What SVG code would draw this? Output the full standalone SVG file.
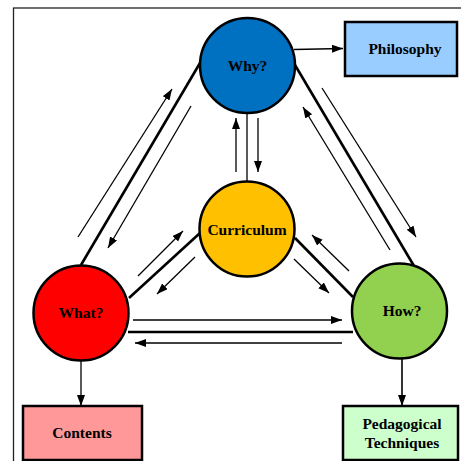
<svg xmlns="http://www.w3.org/2000/svg" width="461" height="461" viewBox="0 0 461 461">
<style>
.c{stroke:#000;stroke-width:2.5}
.b{stroke:#000;stroke-width:2.5}
.t{font-family:"Liberation Serif","Times New Roman",serif;font-weight:bold;font-size:15.5px;fill:#000;text-anchor:middle}
.th{stroke:#000;stroke-width:2.6;fill:none}
.ln{stroke:#000;stroke-width:1.3;fill:none}
.ar{stroke:#000;stroke-width:1.3;fill:none;marker-end:url(#ah)}
</style>
<defs>
<marker id="ah" markerUnits="userSpaceOnUse" markerWidth="12" markerHeight="10" refX="11" refY="4" orient="auto">
<path d="M0,0 L11,4 L0,8 Z" fill="#000"/>
</marker>
</defs>
<rect x="13.5" y="8" width="470" height="470" fill="none" stroke="#222" stroke-width="1.3"/>
<g id="connectors">
<line class="ar" x1="294" y1="49.5" x2="343" y2="48.5"/>
<line class="th" x1="200" y1="63" x2="81" y2="265"/>
<line class="ar" x1="78" y1="237" x2="172" y2="89"/>
<line class="ar" x1="191" y1="106" x2="108" y2="248"/>
<line class="th" x1="295" y1="65" x2="414" y2="266"/>
<line class="ar" x1="322" y1="88" x2="416" y2="237"/>
<line class="ar" x1="390" y1="250" x2="303" y2="107"/>
<line class="ln" x1="247" y1="113" x2="247" y2="182"/>
<line class="ar" x1="236" y1="172" x2="236" y2="118"/>
<line class="ar" x1="258" y1="118" x2="258" y2="172"/>
<line class="th" x1="200" y1="233" x2="129" y2="298"/>
<line class="ar" x1="138" y1="276" x2="183" y2="231"/>
<line class="ar" x1="195" y1="257" x2="157" y2="294"/>
<line class="th" x1="295" y1="238" x2="353" y2="297"/>
<line class="ar" x1="349" y1="271" x2="312" y2="235"/>
<line class="ar" x1="294" y1="259" x2="329" y2="293"/>
<line class="th" x1="128" y1="332" x2="353" y2="332"/>
<line class="ar" x1="133" y1="320" x2="342" y2="320"/>
<line class="ar" x1="342" y1="343" x2="135" y2="343"/>
<line class="ar" x1="81" y1="361" x2="81" y2="406"/>
<line class="ar" x1="402" y1="359" x2="402" y2="406" style="stroke-width:1.6"/>
</g>
<g id="why">
<circle class="c" cx="247.5" cy="65.5" r="47.5" fill="#0070C0"/>
<text class="t" x="247.5" y="71">Why?</text>
</g>
<g id="philosophy">
<rect class="b" x="345" y="22" width="112" height="54" fill="#99CCFF"/>
<text class="t" x="405" y="54">Philosophy</text>
</g>
<g id="curriculum">
<circle class="c" cx="247" cy="229" r="47.5" fill="#FFC000"/>
<text class="t" x="247" y="235">Curriculum</text>
</g>
<g id="what">
<circle class="c" cx="81" cy="313" r="47.5" fill="#FF0000"/>
<text class="t" x="81" y="318">What?</text>
</g>
<g id="how">
<circle class="c" cx="399.5" cy="311" r="47.5" fill="#92D050"/>
<text class="t" x="402" y="316">How?</text>
</g>
<g id="contents">
<rect class="b" x="23" y="406" width="119" height="54" fill="#FF9999"/>
<text class="t" x="82" y="438">Contents</text>
</g>
<g id="pedagogical">
<rect class="b" x="343" y="406" width="115" height="54" fill="#CCFFCC"/>
<text class="t" x="402" y="429">Pedagogical</text>
<text class="t" x="402" y="448">Techniques</text>
</g>
</svg>
